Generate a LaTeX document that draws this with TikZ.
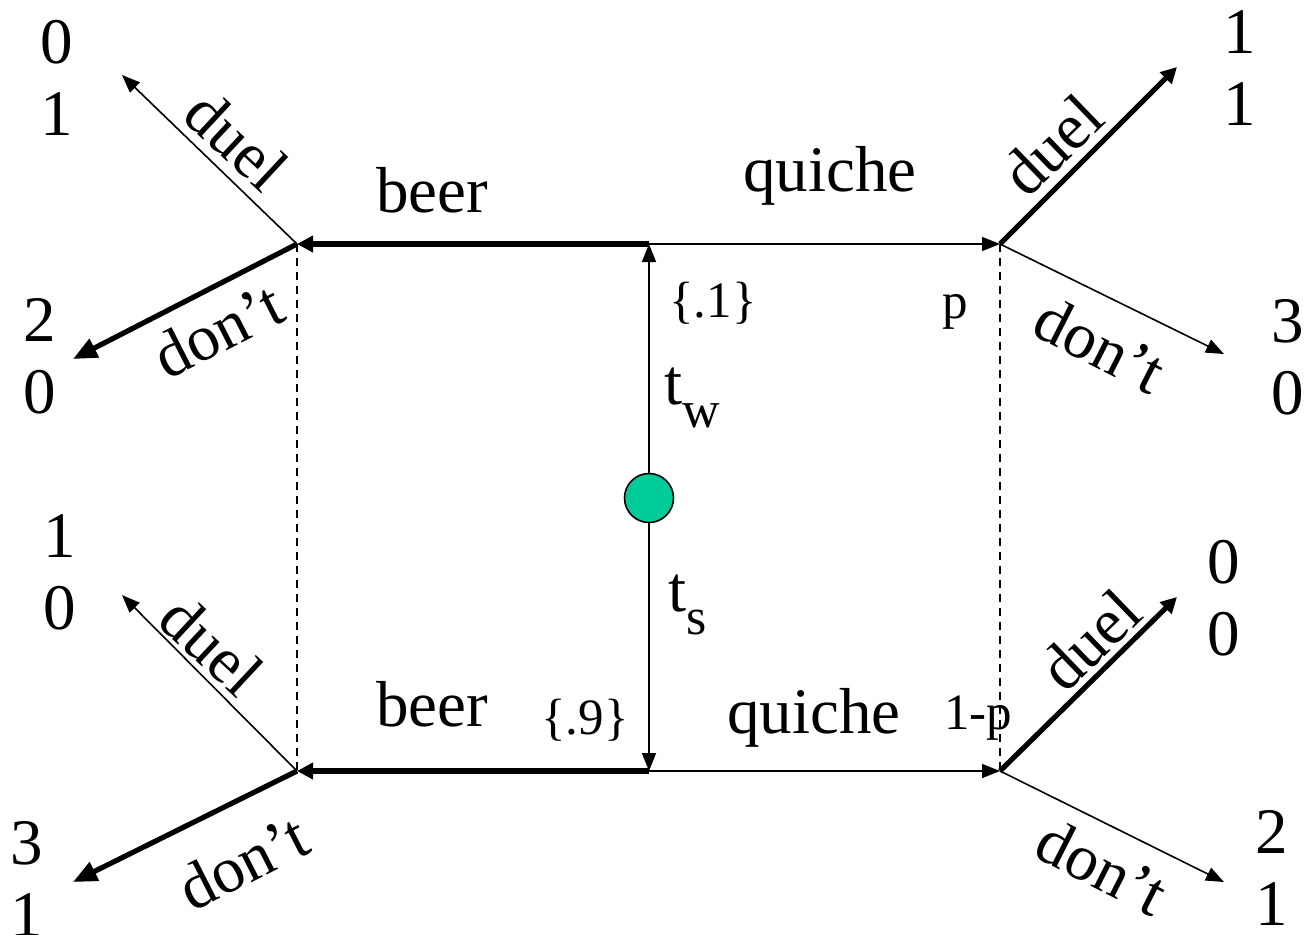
\documentclass[tikz,border=0pt]{standalone}
\usepackage{fontspec}
\setmainfont{Liberation Serif}
\usetikzlibrary{arrows.meta}
\definecolor{chance}{HTML}{00CC99}
\newcommand{\lowidx}[1]{\raisebox{-0.35em}{\fontsize{26}{30}\selectfont #1}}
\tikzset{
  mv/.style={-{Triangle[length=9pt,width=7pt]}, line width=0.8pt},
  mvbold/.style={-{Triangle[length=8pt,width=8pt]}, line width=2.6pt},
  mvboldlg/.style={-{Triangle[length=12pt,width=10pt]}, line width=2.6pt},
  info/.style={dash pattern=on 4pt off 3pt, line width=0.6pt},
  lbl/.style={font=\fontsize{32.5}{36}\selectfont, inner sep=0pt},
  sm/.style={font=\fontsize{25.5}{28}\selectfont, inner sep=0pt},
  pay/.style={lbl, align=center},
  nature/.style={circle, draw, fill=chance, minimum size=24.5pt, inner sep=0pt, line width=0.8pt}
}

\begin{document}
\begin{tikzpicture}[x=0.5pt,y=-0.5pt]
  \useasboundingbox (0,0) rectangle (1306,934);

  % nature and the two types
  \node[nature] (n0) at (649,498) {};
  \coordinate (tw) at (649,244);
  \coordinate (ts) at (649,771);

  % receiver's nodes
  \coordinate (wB) at (297,244);
  \coordinate (wQ) at (1000,244);
  \coordinate (sB) at (297,771);
  \coordinate (sQ) at (1000,771);

  % ends of the receiver's moves
  \coordinate (wBduel) at (122,75);
  \coordinate (wBdont) at (73,359);
  \coordinate (wQduel) at (1177,67);
  \coordinate (wQdont) at (1224,354);
  \coordinate (sBduel) at (122,595);
  \coordinate (sBdont) at (73,882);
  \coordinate (sQduel) at (1177,597);
  \coordinate (sQdont) at (1224,882);

  \draw[mv] (n0) -- (tw);
  \draw[mv] (n0) -- (ts);
  \draw[mvbold] (tw) -- (wB);
  \draw[mv] (tw) -- (wQ);
  \draw[mvbold] (ts) -- (sB);
  \draw[mv] (ts) -- (sQ);

  \draw[info] (wB) -- (sB);
  \draw[info] (wQ) -- (sQ);

  \draw[mv] (wB) -- (wBduel);
  \draw[mvboldlg] (wB) -- (wBdont);
  \draw[mvbold] (wQ) -- (wQduel);
  \draw[mv] (wQ) -- (wQdont);
  \draw[mv] (sB) -- (sBduel);
  \draw[mvboldlg] (sB) -- (sBdont);
  \draw[mvbold] (sQ) -- (sQduel);
  \draw[mv] (sQ) -- (sQdont);

  % payoffs
  \node[pay] (p1) at (57,78) {0\\1};
  \node[pay] (p2) at (40,356) {2\\0};
  \node[pay] (p3) at (1240,68) {1\\1};
  \node[pay] (p4) at (1288,357) {3\\0};
  \node[pay] (p5) at (60,572) {1\\0};
  \node[pay] (p6) at (27,879) {3\\1};
  \node[pay] (p7) at (1224,598) {0\\0};
  \node[pay] (p8) at (1272,868) {2\\1};

  % messages
  \node[lbl] (lb1) at (432,190) {beer};
  \node[lbl] (lq1) at (830,176) {quiche};
  \node[lbl] (lb2) at (432,704) {beer};
  \node[lbl] (lq2) at (814,718) {quiche};

  % types, priors and beliefs
  \node[lbl] (ltw) at (692,398) {t\lowidx{w}};
  \node[lbl] (lts) at (688,605) {t\lowidx{s}};
  \node[sm] (pr1) at (713,303) {\{.1\}};
  \node[sm] (pr2) at (585,720) {\{.9\}};
  \node[sm] (bp) at (955,312) {p};
  \node[sm] (bq) at (978,718) {1-p};

  % responses
  \node[lbl, rotate=-43] (d1) at (237,140) {duel};
  \node[lbl, rotate=27] (n1) at (218,330) {don't};
  \node[lbl, rotate=44] (d2) at (1052,145) {duel};
  \node[lbl, rotate=-27] (n2) at (1100,345) {don't};
  \node[lbl, rotate=-43] (d3) at (212,645) {duel};
  \node[lbl, rotate=27] (n3) at (243,862) {don't};
  \node[lbl, rotate=44] (d4) at (1090,640) {duel};
  \node[lbl, rotate=-27] (n4) at (1102,867) {don't};
\end{tikzpicture}
\end{document}
